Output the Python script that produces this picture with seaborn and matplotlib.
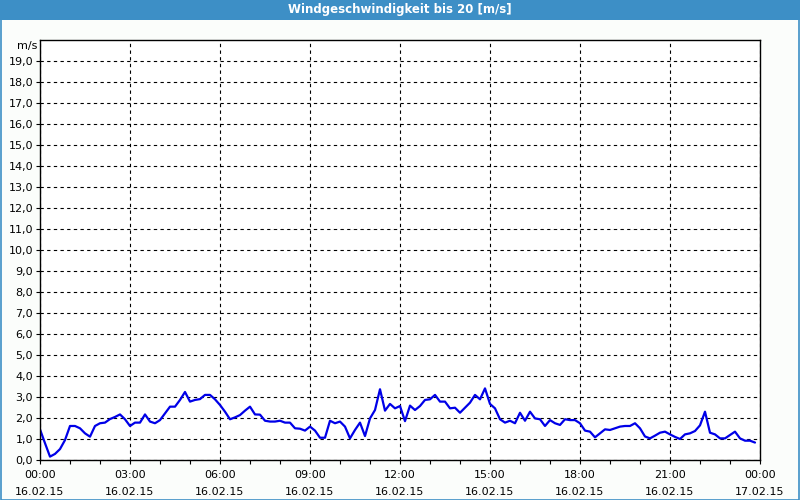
import numpy as np
import pandas as pd
import matplotlib
matplotlib.use("Agg")
import matplotlib.pyplot as plt
import matplotlib.dates as mdates
from matplotlib.patches import Rectangle
import seaborn as sns

title = "Windgeschwindigkeit bis 20 [m/s]"
unit = "m/s"
start = "2015-02-16 00:00"
end = "2015-02-17 00:00"
step = "10min"
wind = [
    1.46, 0.80, 0.16, 0.29, 0.52, 0.95, 1.62, 1.62, 1.51, 1.27, 1.11, 1.62,
    1.75, 1.78, 1.95, 2.05, 2.17, 1.94, 1.62, 1.78, 1.78, 2.17, 1.83, 1.75,
    1.90, 2.22, 2.54, 2.54, 2.86, 3.24, 2.78, 2.86, 2.90, 3.10, 3.10, 2.89,
    2.62, 2.30, 1.94, 2.03, 2.14, 2.35, 2.54, 2.17, 2.16, 1.87, 1.83, 1.83,
    1.87, 1.78, 1.78, 1.51, 1.49, 1.40, 1.59, 1.40, 1.06, 1.06, 1.87, 1.75,
    1.83, 1.59, 1.03, 1.43, 1.78, 1.14, 1.98, 2.38, 3.37, 2.35, 2.67, 2.46,
    2.57, 1.85, 2.59, 2.38, 2.57, 2.86, 2.89, 3.10, 2.78, 2.78, 2.46, 2.49,
    2.25, 2.49, 2.73, 3.10, 2.89, 3.41, 2.67, 2.46, 1.94, 1.78, 1.87, 1.75,
    2.25, 1.87, 2.30, 1.98, 1.94, 1.62, 1.90, 1.75, 1.67, 1.94, 1.90, 1.90,
    1.75, 1.40, 1.35, 1.08, 1.27, 1.46, 1.43, 1.51, 1.59, 1.62, 1.62, 1.75,
    1.51, 1.12, 1.03, 1.16, 1.30, 1.35, 1.22, 1.10, 1.00, 1.22, 1.27, 1.38,
    1.65, 2.30, 1.30, 1.22, 1.03, 1.03, 1.19, 1.35, 1.03, 0.92, 0.92, 0.83,
]
y_ticks = list(range(0, 20))
y_labels = [f"{v},0" for v in y_ticks]

times = pd.date_range(start, periods=len(wind), freq=step)
df = pd.DataFrame({"time": times, "wind": wind})

sns.set_theme(style="white")
plt.rcParams["font.family"] = ["DejaVu Sans"]

bg = "#fbfdfb"
bar_blue = "#3d8fc6"
fig = plt.figure(figsize=(8, 5), dpi=100, facecolor=bg)
ax = fig.add_axes([0.05, 0.08, 0.90, 0.84])
ax.set_facecolor("white")

sns.lineplot(data=df, x="time", y="wind", ax=ax, color="#0000e8", linewidth=1.6)

ax.set_xlim(pd.Timestamp(start), pd.Timestamp(end))
ax.set_ylim(0, 20)
ax.set_yticks(y_ticks)
ax.set_yticklabels(y_labels)
ax.xaxis.set_major_locator(mdates.HourLocator(byhour=range(0, 24, 3)))
ax.xaxis.set_minor_locator(mdates.HourLocator())
ax.xaxis.set_major_formatter(mdates.DateFormatter("%H:%M\n%d.%m.%y"))
ax.set_xlabel("")
ax.set_ylabel("")

ax.grid(True, which="major", color="black", linestyle=(0, (3, 3)), linewidth=0.8)
ax.tick_params(axis="both", which="major", direction="out", length=3, width=0.8,
               colors="black", labelsize=8, pad=2, labelcolor="black")
ax.tick_params(axis="x", which="minor", direction="out", length=3, width=0.8,
               colors="black", bottom=True)
ax.tick_params(axis="x", which="major", bottom=True, pad=4)
ax.tick_params(axis="y", which="major", left=True)
for lbl in ax.get_xticklabels():
    lbl.set_linespacing(1.9)
for s in ax.spines.values():
    s.set_color("black")
    s.set_linewidth(1.0)

ax.text(-0.004, 1.0 - 6 / 420, unit, transform=ax.transAxes, ha="right", va="center",
        fontsize=8, color="black")

# title bar and frame
fig.patches.append(Rectangle((0, 1 - 20 / 500), 1, 20 / 500, transform=fig.transFigure,
                             facecolor=bar_blue, edgecolor="none", zorder=0))
fig.patches.append(Rectangle((0.0008, 0.001), 0.9985, 0.997, transform=fig.transFigure,
                             facecolor="none", edgecolor=bar_blue, linewidth=1.2, zorder=5))
fig.text(0.5, 1 - 10 / 500, title, ha="center", va="center", color="white",
         fontsize=8.5, fontweight="bold")

fig.savefig("out.png", dpi=100, facecolor=bg)
